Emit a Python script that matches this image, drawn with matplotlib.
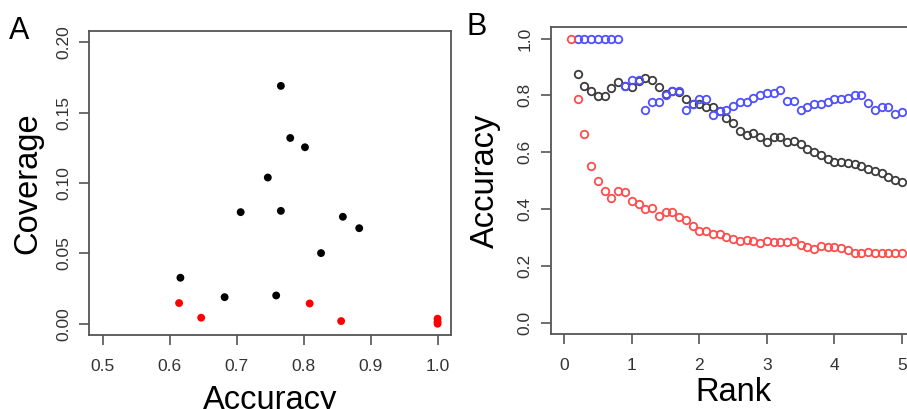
import numpy as np
import matplotlib
matplotlib.use("Agg")
import matplotlib.pyplot as plt

plt.rcParams['font.family'] = ['Liberation Sans', 'DejaVu Sans']

# panel A: accuracy vs coverage
acc_black = [0.766, 0.780, 0.802, 0.7465, 0.706, 0.766, 0.8586, 0.883, 0.826, 0.616, 0.682, 0.759]
cov_black = [0.169, 0.132, 0.1254, 0.1039, 0.0793, 0.0802, 0.076, 0.0679, 0.0502, 0.0327, 0.0189, 0.0201]
acc_red = [0.614, 0.647, 0.809, 0.856, 1.0, 1.0, 1.0]
cov_red = [0.0147, 0.0043, 0.0144, 0.0019, 0.0036, 0.0015, 0.0]

# panel B: accuracy vs rank (gray and blue start at 0.2, pink at 0.1)
rank = [round(0.1 * i, 1) for i in range(1, 51)]
acc_gray = [0.875, 0.832, 0.814, 0.799, 0.799, 0.827, 0.847, 0.833, 0.829,
            0.849, 0.860, 0.853, 0.828, 0.806, 0.815, 0.812, 0.786, 0.770, 0.770,
            0.758, 0.758, 0.746, 0.719, 0.702, 0.675, 0.662, 0.667, 0.655, 0.637,
            0.653, 0.655, 0.637, 0.641, 0.628, 0.611, 0.602, 0.590, 0.575, 0.567,
            0.566, 0.561, 0.558, 0.553, 0.542, 0.535, 0.526, 0.514, 0.502, 0.496]
acc_blue = [1.0, 1.0, 1.0, 1.0, 1.0, 1.0, 1.0, 0.833, 0.854,
            0.854, 0.749, 0.778, 0.778, 0.802, 0.817, 0.817, 0.749, 0.769, 0.786,
            0.786, 0.731, 0.745, 0.749, 0.763, 0.778, 0.778, 0.790, 0.800, 0.810,
            0.810, 0.818, 0.780, 0.780, 0.749, 0.760, 0.769, 0.769, 0.778, 0.786,
            0.786, 0.792, 0.800, 0.800, 0.775, 0.749, 0.760, 0.760, 0.735, 0.743]
acc_pink = [1.0, 0.786, 0.665, 0.552, 0.499, 0.464, 0.438, 0.464, 0.461, 0.429,
            0.416, 0.400, 0.402, 0.374, 0.388, 0.388, 0.373, 0.361, 0.341, 0.324,
            0.321, 0.312, 0.312, 0.302, 0.293, 0.287, 0.292, 0.287, 0.279, 0.287,
            0.285, 0.285, 0.285, 0.287, 0.275, 0.266, 0.260, 0.270, 0.266, 0.265,
            0.261, 0.255, 0.246, 0.246, 0.248, 0.246, 0.246, 0.246, 0.245, 0.246]

fig = plt.figure(figsize=(9.07, 4.09), dpi=100)
axA = fig.add_axes([0.0985, 0.1809, 0.3987, 0.7433])
axB = fig.add_axes([0.6072, 0.1834, 0.402, 0.750])


def r_style(ax):
	for s in ax.spines.values():
		s.set_color('#555555')
		s.set_linewidth(1.3)
	ax.tick_params(axis='both', direction='out', length=7, width=1.2, color='#555555',
		labelsize=12.5, labelcolor='#333333')
	ax.tick_params(axis='x', pad=10)
	ax.tick_params(axis='y', pad=6)
	for lab in ax.get_yticklabels():
		lab.set_rotation(90)
		lab.set_va('center')


axA.scatter(acc_black, cov_black, s=32, c='black', edgecolors='none', zorder=3)
axA.scatter(acc_red, cov_red, s=32, c='red', edgecolors='none', zorder=3)
axA.set_xlim(0.48, 1.02)
axA.set_ylim(-0.008, 0.208)
axA.set_xticks([0.5, 0.6, 0.7, 0.8, 0.9, 1.0])
axA.set_yticks([0.0, 0.05, 0.1, 0.15, 0.2])
axA.set_yticklabels(['0.00', '0.05', '0.10', '0.15', '0.20'])
r_style(axA)
axA.set_xlabel('Accuracy', fontsize=23.5, labelpad=8)
axA.set_ylabel('Coverage', fontsize=23.5, labelpad=9)
fig.text(0.010, 0.925, 'A', fontsize=22, va='center')

mk = dict(marker='o', linestyle='none', markersize=5.4, markerfacecolor='none', markeredgewidth=1.3)
axB.plot(rank[1:], acc_gray, color='#3c3c3c', **mk)
axB.plot(rank[1:], acc_blue, color='#5050ff', **mk)
axB.plot(rank, acc_pink, color='#ff4d4d', **mk)
axB.set_xlim(-0.2, 5.2)
axB.set_ylim(-0.04, 1.04)
axB.set_xticks([0, 1, 2, 3, 4, 5])
axB.set_yticks([0.0, 0.2, 0.4, 0.6, 0.8, 1.0])
axB.set_yticklabels(['0.0', '0.2', '0.4', '0.6', '0.8', '1.0'])
r_style(axB)
axB.set_xlabel('Rank', fontsize=23.5, labelpad=3)
axB.set_ylabel('Accuracy', fontsize=23.5, labelpad=12)
fig.text(0.514, 0.935, 'B', fontsize=22, va='center')

fig.savefig('out.png', dpi=100)
